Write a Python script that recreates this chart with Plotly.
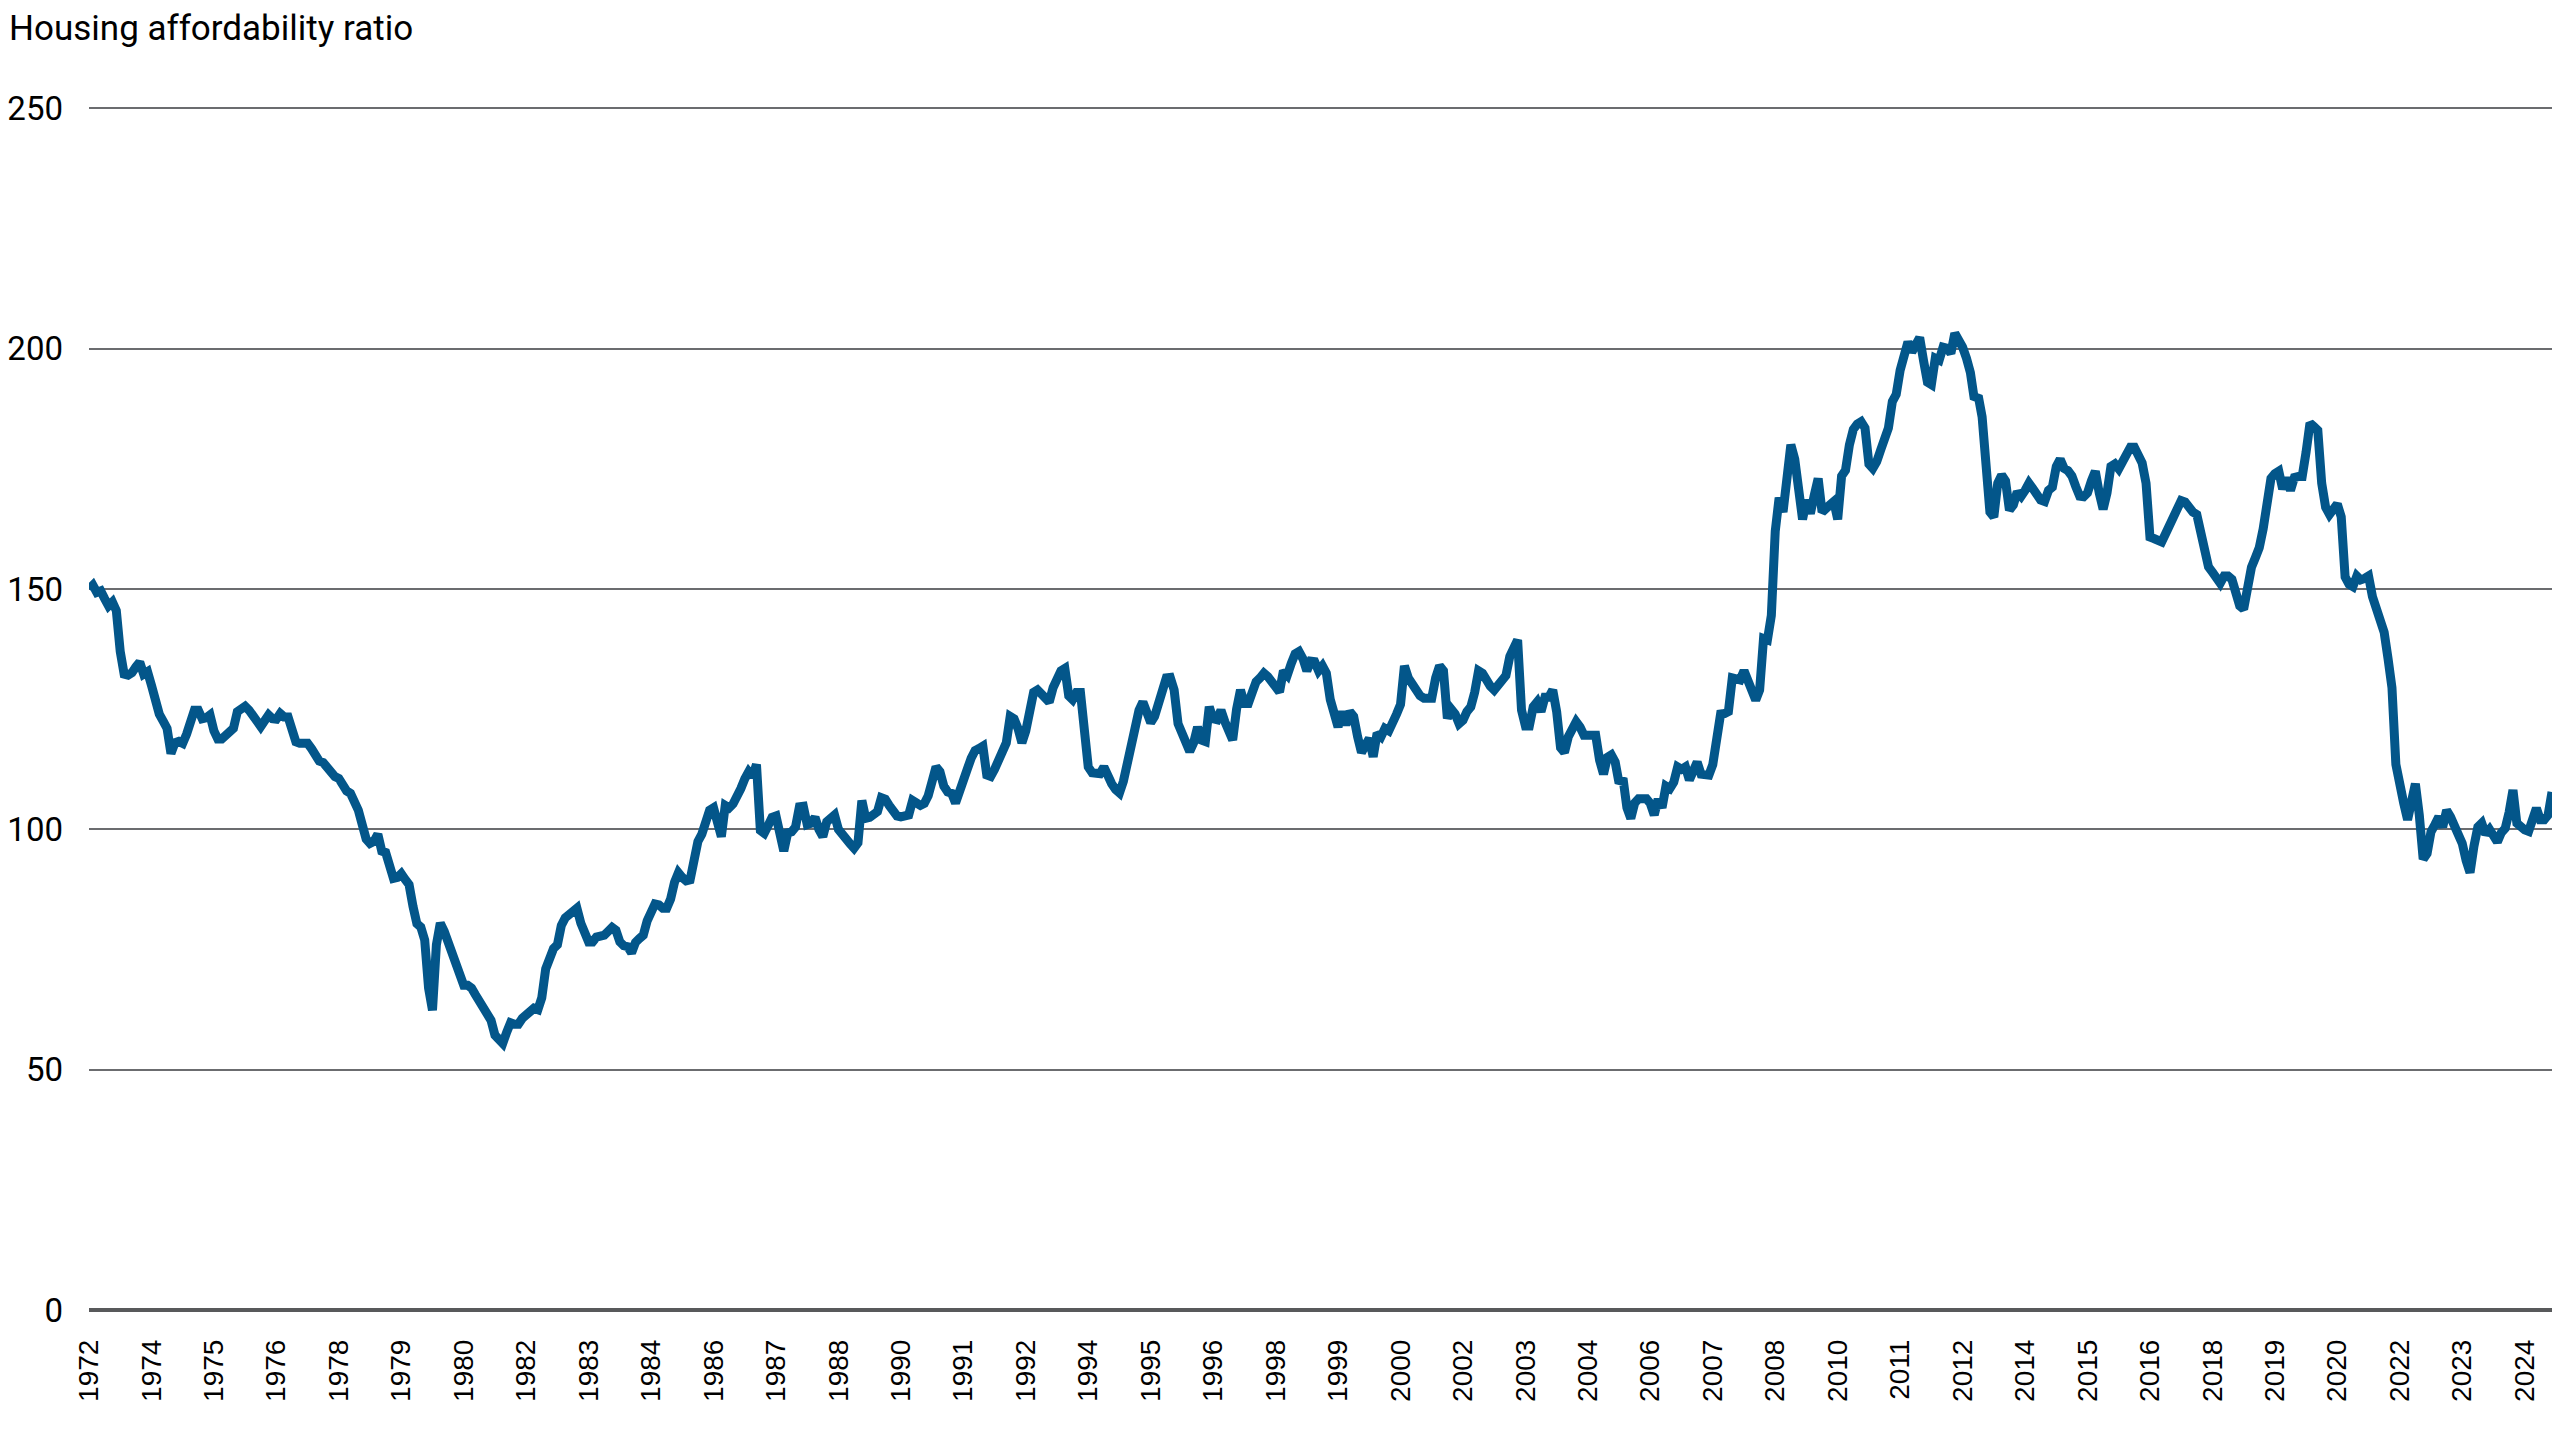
import plotly.graph_objects as go

# Housing affordability ratio, one value per period
ratio = [
    150.0, 150.8, 149.3, 149.6, 148.0, 146.5, 147.3, 145.5, 137.0, 132.3, 132.1, 132.6, 133.8, 134.8, 132.3, 132.8,
    130.0, 126.5, 124.0, 122.5, 121.0, 115.8, 118.0, 118.3, 117.9, 119.8, 122.0, 124.8, 124.8, 123.0, 123.2, 123.8,
    120.5, 118.8, 118.8, 119.4, 120.2, 121.0, 124.5, 125.3, 125.6, 124.8, 123.9, 122.6, 121.4, 122.6, 123.8, 123.0,
    122.9, 124.1, 123.4, 123.4, 120.0, 118.2, 117.9, 117.9, 117.9, 116.8, 115.0, 114.2, 113.9, 112.8, 111.6, 111.0,
    110.6, 109.0, 108.0, 107.5, 106.0, 104.0, 101.0, 98.0, 97.1, 97.5, 99.0, 95.5, 95.2, 92.0, 89.8, 90.0,
    90.8, 89.6, 88.5, 84.0, 80.4, 79.7, 77.0, 67.0, 62.4, 76.0, 80.5, 78.8, 76.5, 74.0, 71.5, 69.0,
    67.6, 67.6, 67.0, 65.6, 64.2, 63.0, 61.0, 60.3, 57.2, 56.2, 55.5, 57.8, 59.8, 59.5, 59.5, 60.7,
    61.5, 62.5, 62.8, 62.5, 65.0, 71.0, 73.3, 75.2, 76.0, 80.0, 81.6, 82.3, 83.0, 83.6, 80.5, 77.8,
    76.6, 76.6, 77.6, 77.8, 78.0, 78.8, 79.6, 79.0, 76.6, 75.8, 75.6, 74.3, 76.5, 77.3, 78.0, 81.0,
    83.2, 84.5, 84.3, 83.6, 83.6, 85.5, 89.0, 91.0, 90.0, 89.3, 89.5, 93.8, 97.5, 99.0, 101.2, 104.0,
    104.5, 101.3, 98.5, 105.0, 104.5, 105.3, 107.5, 108.5, 110.5, 112.0, 111.0, 113.5, 99.8, 99.2, 100.8, 102.5,
    102.8, 98.5, 95.5, 99.3, 99.5, 100.5, 104.7, 104.8, 101.0, 101.3, 102.5, 100.0, 98.5, 101.6, 102.3, 103.0,
    100.0, 99.2, 97.8, 97.0, 96.1, 97.2, 106.0, 102.3, 102.5, 103.0, 103.7, 106.6, 106.3, 105.0, 104.0, 102.8,
    102.6, 102.6, 103.0, 106.0, 105.4, 105.0, 105.4, 107.0, 110.0, 113.0, 112.0, 109.0, 107.8, 107.5, 105.5, 107.5,
    110.0, 112.5, 114.8, 116.4, 116.8, 117.3, 111.3, 111.0, 112.5, 114.8, 116.8, 118.0, 123.5, 123.0, 121.0, 118.0,
    120.5, 125.0, 128.5, 129.0, 128.0, 127.0, 126.5, 129.5, 131.5, 133.0, 133.5, 127.8, 127.0, 128.5, 128.5, 119.0,
    113.0, 111.8, 111.6, 111.6, 113.0, 111.0, 109.5, 108.3, 107.6, 110.0, 113.5, 117.5, 122.5, 124.8, 126.5, 124.5,
    122.2, 123.5, 126.0, 129.5, 131.5, 131.6, 129.0, 122.0, 119.8, 117.5, 116.2, 118.0, 121.3, 118.6, 118.3, 125.5,
    123.0, 122.8, 124.8, 122.4, 120.0, 118.6, 125.0, 129.0, 126.2, 126.2, 128.5, 130.7, 131.5, 132.5, 131.8, 130.7,
    129.5, 128.6, 133.0, 132.1, 134.5, 136.5, 137.0, 135.5, 133.0, 135.0, 134.9, 133.0, 134.0, 132.5, 127.0, 124.5,
    121.3, 124.5, 121.7, 124.5, 123.5, 119.3, 116.0, 117.5, 118.9, 115.1, 120.0, 119.3, 121.0, 120.5, 122.0, 124.0,
    126.0, 134.0, 131.5, 130.0, 129.0, 127.8, 127.3, 127.3, 127.3, 131.5, 134.0, 133.0, 123.1, 125.0, 124.0, 122.0,
    122.7, 124.5, 125.5, 128.5, 133.0, 132.5, 130.7, 129.8, 129.0, 130.0, 131.2, 132.0, 136.0, 138.0, 139.4, 124.8,
    121.5, 121.5, 125.5, 126.5, 124.5, 127.5, 127.5, 129.0, 124.5, 117.0, 116.0, 119.3, 121.5, 122.4, 121.3, 119.6,
    119.6, 119.6, 119.6, 114.4, 111.5, 115.0, 115.5, 114.0, 109.6, 110.6, 104.5, 102.3, 105.5, 106.4, 106.4, 106.4,
    105.4, 103.0, 106.3, 104.5, 109.0, 108.5, 109.8, 113.0, 112.5, 113.0, 110.3, 112.5, 114.0, 111.5, 111.3, 111.3,
    113.5, 120.5, 124.0, 124.1, 124.5, 131.5, 131.1, 131.1, 133.0, 131.0, 128.0, 126.9, 129.0, 139.7, 139.4, 144.5,
    162.0, 169.0, 166.0, 174.0, 180.0, 177.0, 172.0, 164.5, 168.5, 165.7, 169.5, 173.0, 166.0, 167.1, 167.5, 168.2,
    164.5, 173.5, 174.7, 180.0, 183.2, 184.3, 184.8, 183.5, 176.0, 175.1, 176.5, 178.9, 181.3, 183.5, 189.0, 190.5,
    195.5, 198.3, 201.4, 199.3, 201.1, 202.3, 197.5, 193.0, 192.5, 198.0, 197.6, 200.3, 200.1, 199.0, 203.2, 201.8,
    200.3, 198.0, 195.0, 189.5, 190.2, 185.8, 176.0, 166.0, 165.0, 172.0, 173.7, 172.5, 166.4, 167.5, 170.2, 169.3,
    170.5, 172.0, 170.9, 169.5, 168.5, 168.2, 170.5, 171.2, 175.5, 177.0, 175.1, 174.6, 173.5, 171.3, 169.3, 169.2,
    170.0, 172.5, 174.5, 170.0, 166.6, 170.0, 175.5, 176.0, 175.0, 176.5, 178.5, 179.5, 179.5, 178.0, 176.2, 172.0,
    160.8, 160.5, 160.0, 159.8, 161.5, 163.5, 165.0, 166.8, 168.4, 168.1, 166.8, 166.0, 165.5, 162.0, 157.5, 154.6,
    153.5, 152.0, 151.2, 152.7, 152.7, 152.0, 149.0, 146.5, 145.8, 151.0, 154.5, 156.5, 158.6, 162.5, 169.5, 173.0,
    174.0, 174.5, 170.8, 173.1, 170.5, 173.2, 173.4, 173.4, 178.5, 184.5, 183.8, 183.0, 172.0, 167.0, 165.5, 166.5,
    167.7, 165.0, 152.5, 151.0, 150.5, 152.7, 151.9, 152.2, 152.7, 148.4, 146.0, 144.5, 141.0, 135.5, 129.5, 113.5,
    108.5, 105.5, 102.0, 106.5, 109.5, 103.0, 93.8, 95.0, 99.5, 101.0, 102.6, 100.5, 104.0, 102.6, 100.5, 98.5,
    97.1, 93.5, 91.0, 96.5, 100.5, 101.3, 99.0, 100.0, 98.5, 97.4, 99.3, 100.2, 103.5, 108.2, 101.3, 100.3,
    99.9, 99.6, 101.5, 104.4, 102.0, 102.0, 103.0, 107.8,
]

# Category-axis labels, shown every 16 periods
year_labels = [
    "1972", "1974", "1975", "1976", "1978", "1979", "1980", "1982", "1983", "1984",
    "1986", "1987", "1988", "1990", "1991", "1992", "1994", "1995", "1996", "1998",
    "1999", "2000", "2002", "2003", "2004", "2006", "2007", "2008", "2010", "2011",
    "2012", "2014", "2015", "2016", "2018", "2019", "2020", "2022", "2023", "2024",
]
label_step = 16

y_ticks = [0, 50, 100, 150, 200, 250]

title_text = "Housing affordability ratio"

x_idx = list(range(len(ratio)))
tick_positions = [k * label_step for k in range(len(year_labels))]

HEAD = "Roboto, Lato, sans-serif"
REGULAR = "Liberation Sans, Arial, sans-serif"

W, H = 2552, 1432  # page body adds an 8px offset

fig = go.Figure()
fig.add_trace(go.Scatter(
    x=x_idx, y=ratio, mode="lines",
    line=dict(color="#03568A", width=9),
    hoverinfo="skip", showlegend=False,
))

fig.update_layout(
    width=W, height=H,
    margin=dict(l=81, r=8, t=81, b=125),
    paper_bgcolor="white", plot_bgcolor="white",
    title=dict(
        text=title_text,
        font=dict(family=HEAD, size=35, color="#000000"),
        xref="container", x=1 / W, xanchor="left",
        yref="container", y=1 - 7 / H, yanchor="top",
        pad=dict(t=0, l=0, b=0, r=0),
    ),
    xaxis=dict(
        range=[0, len(ratio) - 1],
        tickmode="array", tickvals=tick_positions, ticktext=year_labels,
        tickangle=-90,
        tickfont=dict(family=REGULAR, size=28, color="#000000"),
        showgrid=False, zeroline=False, showline=False,
        ticks="", ticklabelstandoff=18, automargin=False,
    ),
    yaxis=dict(
        range=[-1, 254],
        tickmode="array", tickvals=y_ticks,
        tickfont=dict(family=HEAD, size=33, color="#000000"),
        showgrid=True, gridcolor="#6b6c6f", gridwidth=2,
        zeroline=True, zerolinecolor="#58595B", zerolinewidth=4,
        showline=False, ticks="", ticklabelstandoff=25, automargin=False,
    ),
)

fig.write_html("out.html")
